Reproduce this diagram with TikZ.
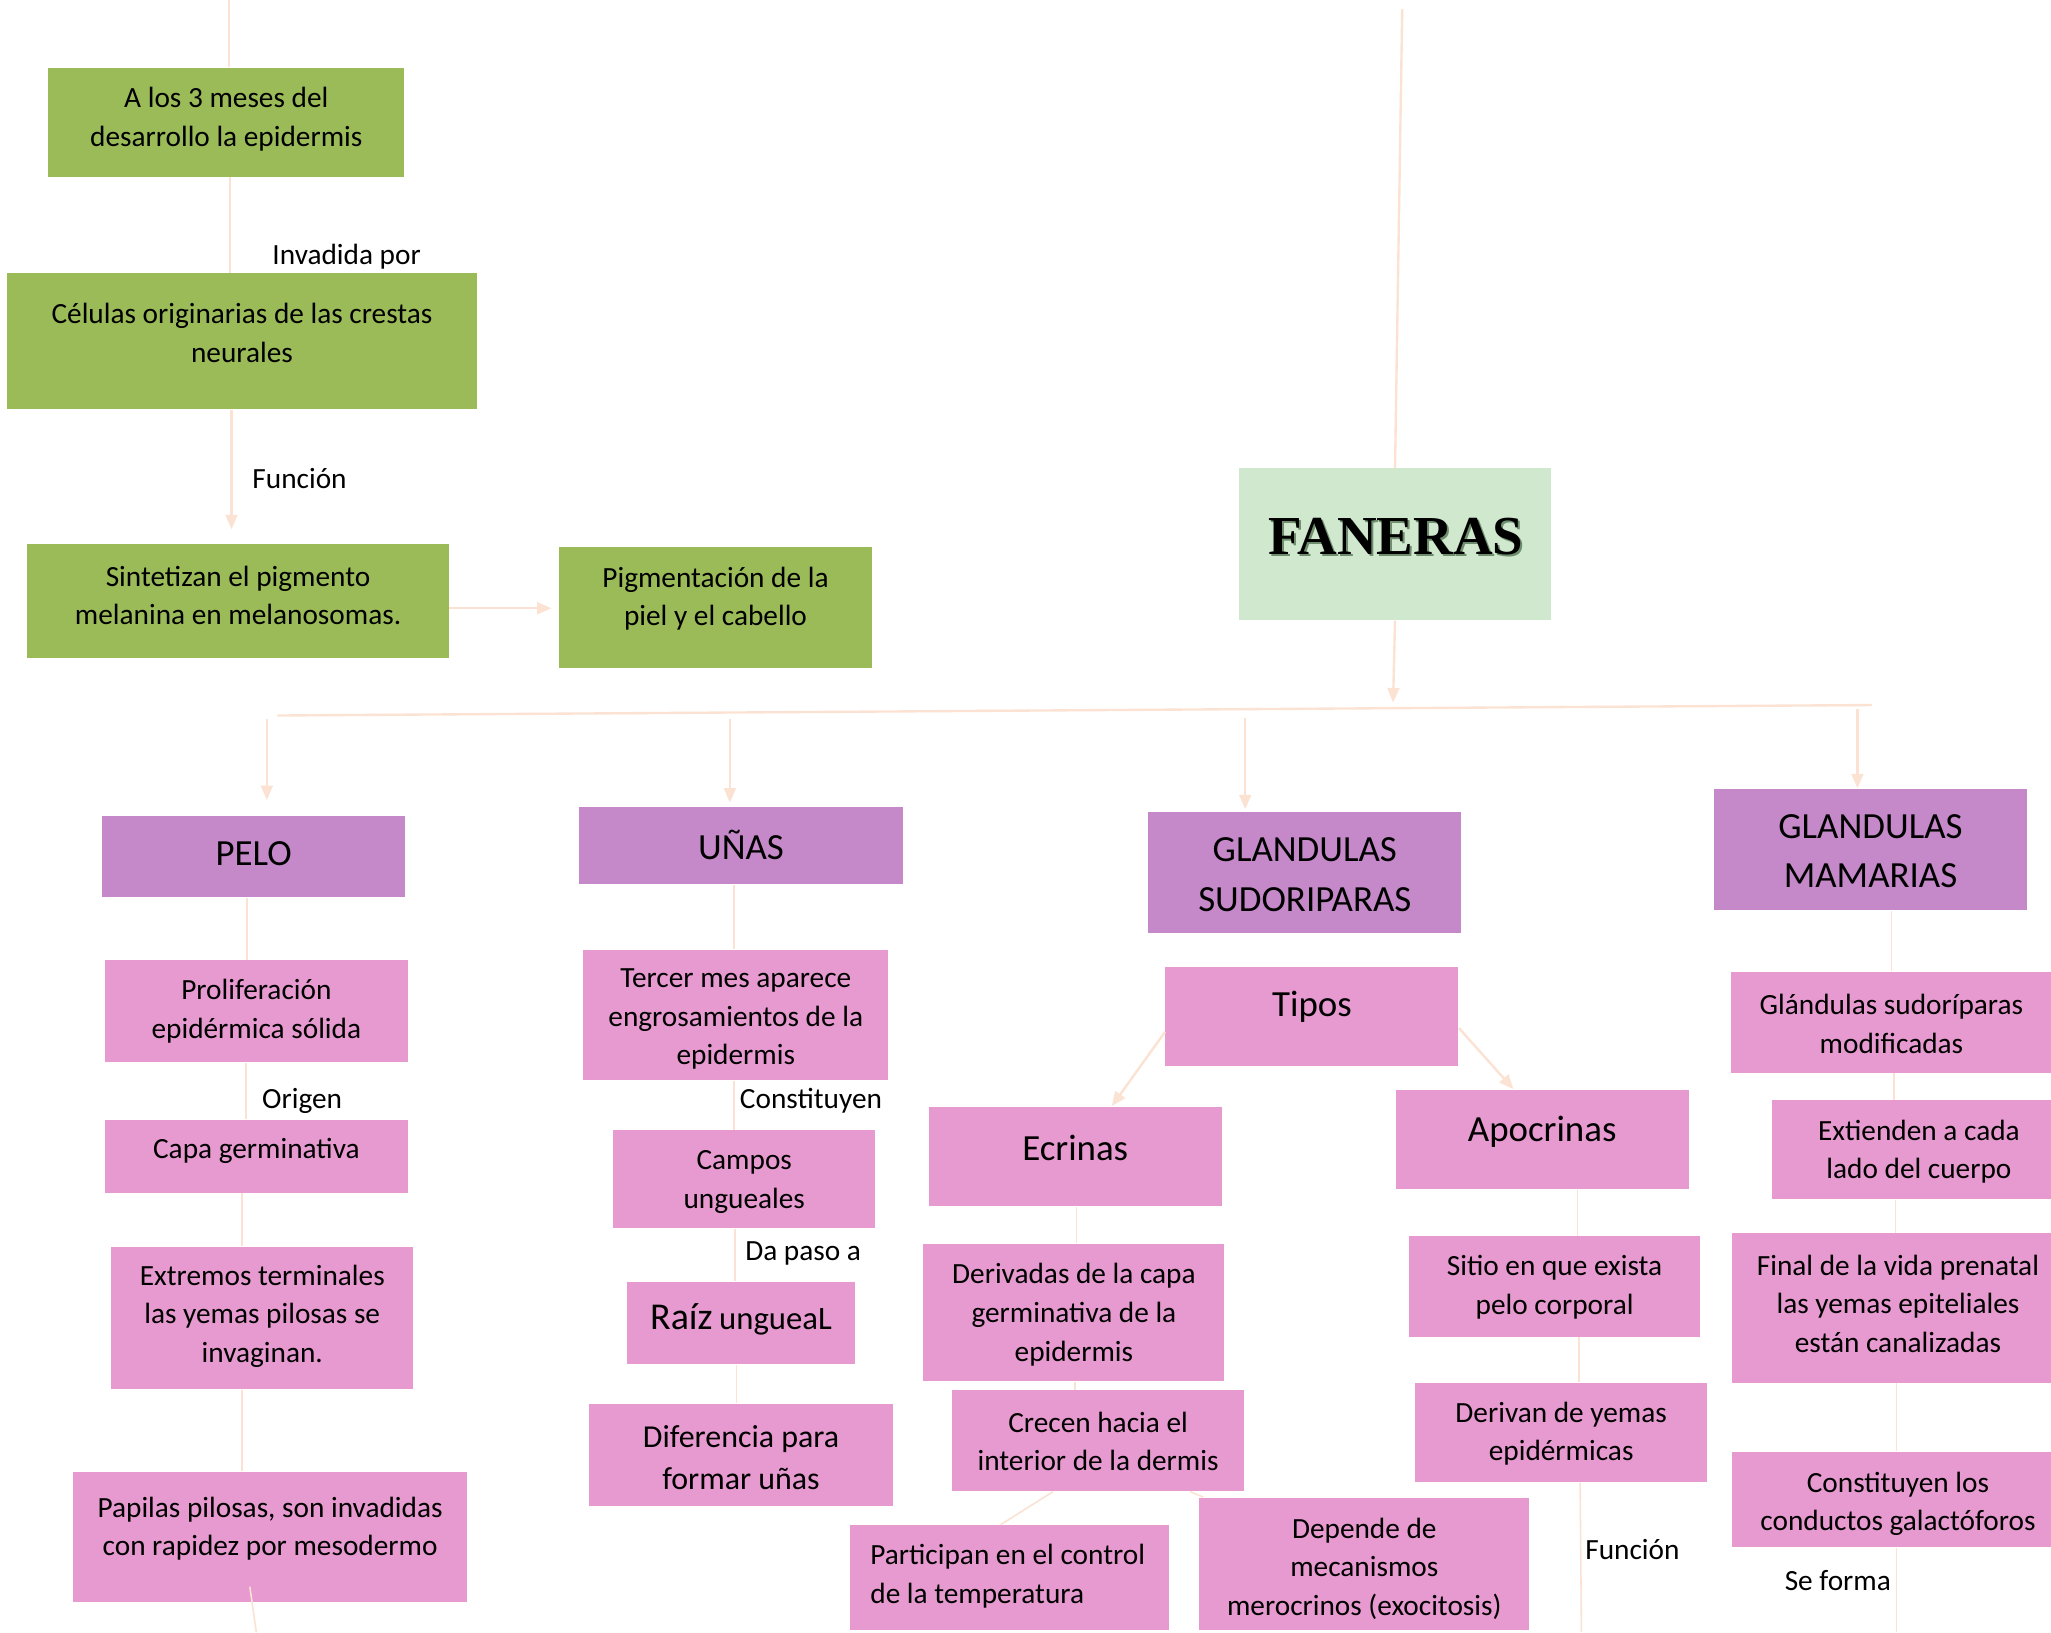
\documentclass[tikz,border=0pt]{standalone}
\usepackage{fontspec}
\setmainfont{Carlito}
\newfontfamily\fanfont{Liberation Serif}
\usetikzlibrary{fit,arrows.meta,calc}
\definecolor{grn}{HTML}{9BBB59}
\definecolor{mint}{HTML}{CFE8CE}
\definecolor{purp}{HTML}{C589C9}
\definecolor{pink}{HTML}{E69ACF}
\definecolor{peach}{HTML}{FBE2D2}
\definecolor{fanshadow}{HTML}{6E8E6E}
\newcommand\bigf{\fontsize{14.1}{19}\selectfont}
\tikzset{
  basebox/.style={inner sep=0pt, draw=none},
  gbox/.style={basebox, fill=grn},
  fanbox/.style={basebox, fill=mint},
  pbox/.style={basebox, fill=purp},
  kbox/.style={basebox, fill=pink},
  txt/.style={align=center, inner sep=0pt, yshift=-0.8pt, font=\fontsize{11.2}{14.75}\selectfont},
  lbl/.style={inner sep=0pt, yshift=-0.8pt, font=\fontsize{11.2}{14.75}\selectfont},
  conn/.style={draw=peach, line width=0.9pt},
  thin/.style={draw=peach, line width=0.6pt},
  arr/.style={conn, -{Triangle[width=4.5pt,length=5.5pt,fill=peach]}},
}
\newcommand\bx[9][]{%
  \node[#2, fit={(#4,#5) (#6,#7)}] (#3) {};
  \node[txt,#1] (#3t) at ({(#4+#6)/2},#8) {#9};
}
\newcommand\vc[3]{\draw[thin] (#1.south -| #3,0) -- (#2.north -| #3,0);}
\begin{document}
\begin{tikzpicture}[x=0.5pt,y=-0.5pt]
\useasboundingbox (0,0) rectangle (1568,1248);
\fill[white] (0,0) rectangle (1568,1248);

% green chain
\bx{gbox}{g1}{37}{52}{309}{135}{89.5}{A los 3 meses del\\desarrollo la epidermis}
\bx{gbox}{g2}{5}{209}{365}{313}{253}{Células originarias de las crestas\\neurales}
\bx{gbox}{g3}{21}{416}{343}{503}{453.5}{Sintetizan el pigmento\\melanina en melanosomas.}
\bx{gbox}{g4}{427}{418}{667}{511}{456}{Pigmentación de la\\piel y el cabello}

% FANERAS
\node[fanbox, fit={(947,358) (1186,474)}] (fan) {};
\node[inner sep=0pt, text=fanshadow, font=\fanfont\bfseries\fontsize{21}{24}\selectfont] (fansh) at (1068.6,411.6) {FANERAS};
\node[inner sep=0pt, font=\fanfont\bfseries\fontsize{21}{24}\selectfont] (fant) at (1067,410) {FANERAS};

% purple heads
\bx[font=\bigf]{pbox}{pelo}{78}{624}{310}{686}{651}{PELO}
\bx[font=\bigf]{pbox}{unas}{443}{617}{690}{676}{644}{UÑAS}
\bx[font=\bigf]{pbox}{gs}{878}{621}{1117}{713}{667}{GLANDULAS\\SUDORIPARAS}
\bx[font=\bigf]{pbox}{gm}{1310}{603}{1550}{696}{649}{GLANDULAS\\MAMARIAS}

% PELO column
\bx{kbox}{p1}{80}{734}{312}{812}{771.5}{Proliferación\\epidérmica sólida}
\bx{kbox}{p2}{80}{856}{312}{912}{878}{Capa germinativa}
\bx{kbox}{p3}{85}{953}{316}{1062}{1004.5}{Extremos terminales\\las yemas pilosas se\\invaginan.}
\bx{kbox}{p4}{56}{1125}{357}{1225}{1167}{Papilas pilosas, son invadidas\\con rapidez por mesodermo}

% UÑAS column
\bx{kbox}{u1}{446}{726}{679}{826}{777.5}{Tercer mes aparece\\engrosamientos de la\\epidermis}
\bx{kbox}{u2}{469}{864}{669}{939}{902}{Campos\\ungueales}
\bx{kbox}{u3}{479}{980}{654}{1043}{1007}{{\fontsize{14.5}{16}\selectfont Raíz} {\fontsize{12.5}{15}\selectfont ungueaL}}
\bx[font=\fontsize{12.2}{16}\selectfont]{kbox}{u4}{450}{1073}{683}{1151}{1113}{Diferencia para\\formar uñas}

% Sudoriparas
\bx[font=\bigf]{kbox}{tipos}{891}{739}{1115}{815}{768}{Tipos}
\bx[font=\bigf]{kbox}{ecr}{710}{846}{934}{922}{876}{Ecrinas}
\bx[font=\bigf]{kbox}{apo}{1067}{833}{1291}{909}{864}{Apocrinas}
\bx{kbox}{s1}{706}{951}{936}{1056}{1003.5}{Derivadas de la capa\\germinativa de la\\epidermis}
\bx{kbox}{s2}{728}{1063}{951}{1140}{1100.5}{Crecen hacia el\\interior de la dermis}
\node[kbox, fit={(650,1166) (894,1246)}] (s3) {};
\node[txt, align=left, anchor=west] (s3t) at (665,1203.5) {Participan en el control\\de la temperatura};
\bx{kbox}{s4}{917}{1145}{1169}{1246}{1197.5}{Depende de\\mecanismos\\merocrinos (exocitosis)}
\bx{kbox}{a1}{1077}{945}{1300}{1022}{982.5}{Sitio en que exista\\pelo corporal}
\bx{kbox}{a2}{1082}{1057}{1305}{1133}{1094.5}{Derivan de yemas\\epidérmicas}

% Mamarias
\bx{kbox}{m1}{1323}{743}{1569}{820}{781}{Glándulas sudoríparas\\modificadas}
\bx{kbox}{m2}{1355}{841}{1579}{917}{879}{Extienden a cada\\lado del cuerpo}
\bx{kbox}{m3}{1324}{943}{1578}{1057}{995}{Final de la vida prenatal\\las yemas epiteliales\\están canalizadas}
\bx{kbox}{m4}{1324}{1110}{1578}{1183}{1148}{Constituyen los\\conductos galactóforos}

% labels
\node[lbl] (l1) at (265,195) {Invadida por};
\node[lbl] (l2) at (229,364) {Función};
\node[lbl] (l3) at (231,840) {Origen};
\node[lbl] (l4) at (620,840) {Constituyen};
\node[lbl] (l5) at (614,957) {Da paso a};
\node[lbl] (l6) at (1248,1183) {Función};
\node[lbl] (l7) at (1405,1207) {Se forma};

% coordinates
\coordinate (top1) at (175,0);
\coordinate (top2) at (1072,7);
\coordinate (busL) at (212,547);
\coordinate (busR) at (1431,539);
\coordinate (busF) at (1065,537);
\coordinate (d1) at (204,550);
\coordinate (d2) at (558,550);
\coordinate (d3) at (952,549);
\coordinate (d4) at (1420,542);
\coordinate (pe1) at (191,1213);
\coordinate (pe2) at (196,1248);
\coordinate (ae) at (1209,1248);
\coordinate (me) at (1450,1248);

% connectors
\draw[conn] (top1) -- (g1.north -| top1);
\draw[conn] (g1.south -| 176,0) -- (g2.north -| 176,0);
\draw[arr, shorten >=5.5pt] (g2.south -| 177,0) -- (g3.north -| 177,0);
\draw[arr, shorten >=2.5pt] (g3.east |- 0,465) -- (g4.west |- 0,465);
\draw[conn] (top2) -- (fan.north);
\draw[arr] (fan.south) -- (busF);
\draw[conn] (busL) -- (busR);
\draw[arr, shorten >=6pt] (d1) -- (pelo.north -| d1);
\draw[arr, shorten >=1.5pt] (d2) -- (unas.north -| d2);
\draw[arr, shorten >=1pt] (d3) -- (gs.north -| d3);
\draw[arr] (d4) -- (gm.north -| d4);

\vc{pelo}{p1}{189}
\vc{p1}{p2}{188}
\vc{p2}{p3}{185}
\vc{p3}{p4}{185}
\draw[thin] (pe1) -- (pe2);

\vc{unas}{u1}{561}
\vc{u1}{u2}{561}
\vc{u2}{u3}{562}
\vc{u3}{u4}{563}

\draw[arr] (tipos.west |- 0,789) -- (ecr.north -| 850,0);
\draw[arr] (tipos.east |- 0,786) -- (apo.north -| 1157,0);
\vc{ecr}{s1}{823}
\vc{s1}{s2}{822}
\draw[thin] (s2.south -| 805,0) -- (s3.north -| 765,0);
\draw[thin] (s2.south -| 910,0) -- (s4.north -| 920,0);
\vc{apo}{a1}{1206}
\vc{a1}{a2}{1207}
\draw[thin] (a2.south -| 1208,0) -- (ae);

\vc{gm}{m1}{1446}
\vc{m1}{m2}{1448}
\vc{m2}{m3}{1449}
\vc{m3}{m4}{1450}
\draw[thin] (m4.south -| 1450,0) -- (me);
\end{tikzpicture}
\end{document}
